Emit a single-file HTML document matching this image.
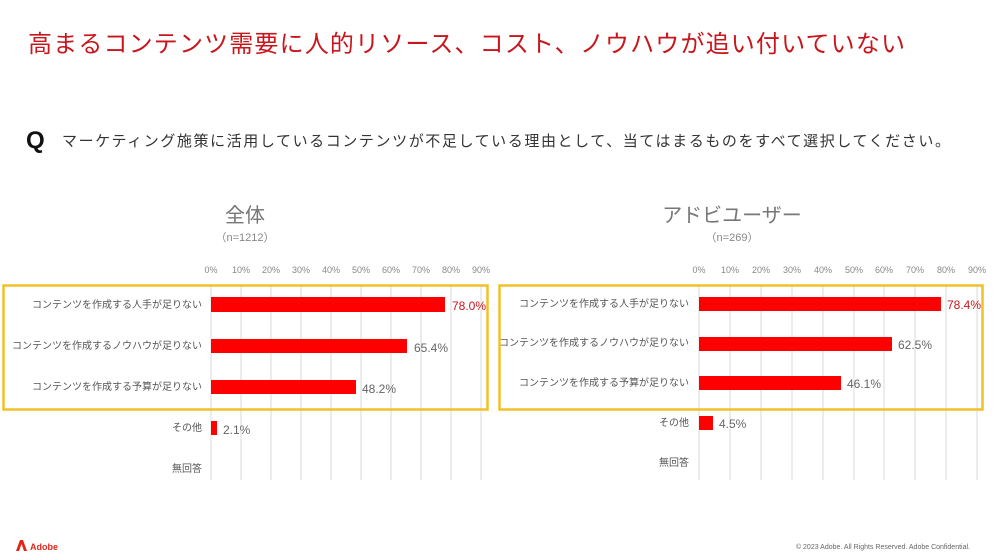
<!DOCTYPE html>
<html><head><meta charset="utf-8"><style>
body{margin:0;background:#fff;}
svg{display:block;font-family:"Liberation Sans","Noto Sans CJK JP",sans-serif;}
</style></head><body>
<svg width="1000" height="560" viewBox="0 0 1000 560" xmlns="http://www.w3.org/2000/svg">
<text x="28" y="52" font-size="24" fill="#c8161d" textLength="877" lengthAdjust="spacing">高まるコンテンツ需要に人的リソース、コスト、ノウハウが追い付いていない</text>
<text x="26" y="148" font-size="24" font-weight="bold" fill="#111">Q</text>
<text x="62" y="146" font-size="15" fill="#333" textLength="888" lengthAdjust="spacing">マーケティング施策に活用しているコンテンツが不足している理由として、当てはまるものをすべて選択してください。</text>

<!-- Left chart -->
<text x="245" y="222" font-size="20" fill="#777" text-anchor="middle">全体</text>
<text x="245" y="241" font-size="11" fill="#888" text-anchor="middle">（n=1212）</text>
<g stroke="#d9d9d9" stroke-width="1">
<line x1="211" y1="285" x2="211" y2="480"/><line x1="241" y1="285" x2="241" y2="480"/><line x1="271" y1="285" x2="271" y2="480"/><line x1="301" y1="285" x2="301" y2="480"/><line x1="331" y1="285" x2="331" y2="480"/><line x1="361" y1="285" x2="361" y2="480"/><line x1="391" y1="285" x2="391" y2="480"/><line x1="421" y1="285" x2="421" y2="480"/><line x1="451" y1="285" x2="451" y2="480"/><line x1="481" y1="285" x2="481" y2="480"/>
</g>
<g font-size="9" fill="#888" text-anchor="middle">
<text x="211" y="273">0%</text><text x="241" y="273">10%</text><text x="271" y="273">20%</text><text x="301" y="273">30%</text><text x="331" y="273">40%</text><text x="361" y="273">50%</text><text x="391" y="273">60%</text><text x="421" y="273">70%</text><text x="451" y="273">80%</text><text x="481" y="273">90%</text>
</g>
<g fill="#f00">
<rect x="211" y="297" width="234" height="15"/><rect x="211" y="339" width="196" height="14"/><rect x="211" y="380" width="145" height="14"/><rect x="211" y="421" width="6" height="14"/>
</g>
<g font-size="10" fill="#555" text-anchor="end">
<text x="202" y="308">コンテンツを作成する人手が足りない</text>
<text x="202" y="349">コンテンツを作成するノウハウが足りない</text>
<text x="202" y="390">コンテンツを作成する予算が足りない</text>
<text x="202" y="431">その他</text>
<text x="202" y="472">無回答</text>
</g>
<g font-size="12" fill="#666">
<text x="452" y="310" fill="#c8161d">78.0%</text><text x="414" y="352">65.4%</text><text x="362" y="393">48.2%</text><text x="223" y="434">2.1%</text>
</g>
<rect x="3.5" y="285.5" width="484" height="124" fill="none" stroke="#f2c029" stroke-width="2.5"/>

<!-- Right chart -->
<text x="732" y="222" font-size="20" fill="#777" text-anchor="middle">アドビユーザー</text>
<text x="732" y="241" font-size="11" fill="#888" text-anchor="middle">（n=269）</text>
<g stroke="#d9d9d9" stroke-width="1">
<line x1="699" y1="285" x2="699" y2="480"/><line x1="730" y1="285" x2="730" y2="480"/><line x1="761" y1="285" x2="761" y2="480"/><line x1="792" y1="285" x2="792" y2="480"/><line x1="823" y1="285" x2="823" y2="480"/><line x1="854" y1="285" x2="854" y2="480"/><line x1="884" y1="285" x2="884" y2="480"/><line x1="915" y1="285" x2="915" y2="480"/><line x1="946" y1="285" x2="946" y2="480"/><line x1="977" y1="285" x2="977" y2="480"/>
</g>
<g font-size="9" fill="#888" text-anchor="middle">
<text x="699" y="273">0%</text><text x="730" y="273">10%</text><text x="761" y="273">20%</text><text x="792" y="273">30%</text><text x="823" y="273">40%</text><text x="854" y="273">50%</text><text x="884" y="273">60%</text><text x="915" y="273">70%</text><text x="946" y="273">80%</text><text x="977" y="273">90%</text>
</g>
<g fill="#f00">
<rect x="699" y="297" width="242" height="14"/><rect x="699" y="337" width="193" height="14"/><rect x="699" y="376" width="142" height="14"/><rect x="699" y="416" width="14" height="14"/>
</g>
<g font-size="10" fill="#555" text-anchor="end">
<text x="689" y="307">コンテンツを作成する人手が足りない</text>
<text x="689" y="346">コンテンツを作成するノウハウが足りない</text>
<text x="689" y="386">コンテンツを作成する予算が足りない</text>
<text x="689" y="426">その他</text>
<text x="689" y="466">無回答</text>
</g>
<g font-size="12" fill="#666">
<text x="947" y="309" fill="#c8161d">78.4%</text><text x="898" y="349">62.5%</text><text x="847" y="388">46.1%</text><text x="719" y="428">4.5%</text>
</g>
<rect x="499.5" y="285.5" width="483" height="124" fill="none" stroke="#f2c029" stroke-width="2.5"/>

<!-- footer -->
<path d="M16 551 L20 540 L23 540 L27 551 L24 551 L21.5 544 L19 551Z" fill="#e1251b"/>
<text x="30" y="550" font-size="9" font-weight="bold" fill="#e1251b">Adobe</text>
<text x="970" y="549" font-size="7" fill="#666" text-anchor="end">© 2023 Adobe. All Rights Reserved. Adobe Confidential.</text>
</svg>
</body></html>
